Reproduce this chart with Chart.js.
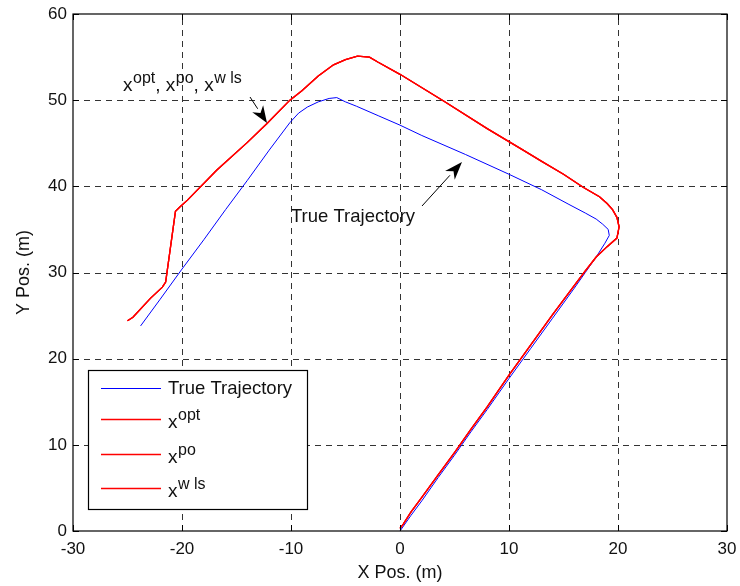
<!DOCTYPE html>
<html><head><meta charset="utf-8">
<script src="https://cdn.jsdelivr.net/npm/chart.js@4.4.0/dist/chart.umd.min.js"></script>
<style>html,body{margin:0;padding:0;background:#fff}#wrap{width:740px;height:586px;position:relative}</style>
</head><body><div id="wrap"><canvas id="c" width="740" height="586"></canvas></div>
<script>
// ---- data ----
const xTicks = [-30, -20, -10, 0, 10, 20, 30];
const yTicks = [0, 10, 20, 30, 40, 50, 60];
const seriesNames = ['True Trajectory', 'x^opt', 'x^po', 'x^w ls'];
const xTitle = 'X Pos. (m)';
const yTitle = 'Y Pos. (m)';

const trueX = [0, 1, 2, 3.5, 5, 6.5, 8, 10, 12, 14, 16, 17, 18, 18.8, 19.2, 19.1, 18.6, 18.0, 17.0, 15.5, 13.0, 10.0, 6.0, 2.0, 0, -2.0, -4.0, -5.0, -5.8, -6.5, -7.5, -8.5, -9.3, -10.1, -12.0, -14.0, -16.0, -18.0, -20.0, -22.0, -23.8];
const trueY = [0, 1.8, 3.5, 6.2, 8.8, 11.5, 14.1, 17.7, 21.2, 24.7, 28.2, 30.0, 31.8, 33.4, 34.3, 35.0, 35.6, 36.2, 36.9, 37.9, 39.6, 41.4, 43.7, 45.9, 47.1, 48.2, 49.3, 49.8, 50.3, 50.2, 49.8, 49.2, 48.5, 47.4, 44.2, 40.7, 37.3, 33.8, 30.4, 26.9, 23.8];

const estX = [0, 0.3, 1, 2, 3.5, 5, 6.5, 8, 10, 12, 14, 16, 17, 18, 19, 19.9, 20.1, 19.9, 19.5, 19.0, 18.3, 16.8, 15.0, 13.0, 11.3, 8.0, 4.0, 0, -2.0, -2.8, -3.9, -5.0, -6.1, -7.5, -9.0, -10.1, -12.2, -14.0, -16.8, -19.5, -20.2, -20.6, -21.5, -21.8, -22.9, -24.5, -25.0];
const estY = [0.3, 0.8, 2.2, 3.9, 6.5, 9.1, 11.8, 14.4, 18.1, 21.6, 25.1, 28.5, 30.2, 31.8, 33.0, 34.0, 35.3, 36.4, 37.3, 38.0, 38.8, 39.9, 41.4, 42.9, 44.2, 46.7, 49.9, 53.0, 54.4, 55.0, 55.1, 54.7, 54.1, 52.8, 51.1, 50.0, 47.3, 45.1, 41.9, 38.4, 37.6, 37.1, 28.9, 28.3, 27.0, 24.8, 24.4];

// ---- helpers ----
const FAM = "'Liberation Sans', Arial, Helvetica, sans-serif";
const pts = (xs, ys) => xs.map((x, i) => ({x: x, y: ys[i]}));

function drawRich(ctx, parts, x, y, baseSize, supSize, rise) {
  let cx = x;
  ctx.textAlign = 'left';
  ctx.textBaseline = 'alphabetic';
  for (const p of parts) {
    ctx.font = baseSize + 'px ' + FAM;
    ctx.fillText(p[0], cx, y);
    cx += ctx.measureText(p[0]).width;
    if (p[1]) {
      ctx.font = supSize + 'px ' + FAM;
      ctx.fillText(p[1], cx + 0.5, y - rise);
      cx += ctx.measureText(p[1]).width + 0.5;
    }
  }
  return cx;
}
function splitSup(name) {
  const i = name.indexOf('^');
  return i < 0 ? [name, null] : [name.slice(0, i), name.slice(i + 1)];
}
function arrow(ctx, x0, y0, x1, y1, headLen, headW) {
  const a = Math.atan2(y1 - y0, x1 - x0);
  const bx = x1 - headLen * Math.cos(a), by = y1 - headLen * Math.sin(a);
  ctx.strokeStyle = '#000'; ctx.fillStyle = '#000'; ctx.lineWidth = 1;
  ctx.beginPath(); ctx.moveTo(x0, y0); ctx.lineTo(bx, by); ctx.stroke();
  const nx = -Math.sin(a), ny = Math.cos(a);
  const mx = x1 - headLen * 0.7 * Math.cos(a), my = y1 - headLen * 0.7 * Math.sin(a);
  ctx.beginPath();
  ctx.moveTo(x1, y1);
  ctx.lineTo(bx + nx * headW / 2, by + ny * headW / 2);
  ctx.lineTo(mx, my);
  ctx.lineTo(bx - nx * headW / 2, by - ny * headW / 2);
  ctx.closePath(); ctx.fill();
}

const gridPlugin = {
  id: 'dashgrid',
  beforeDatasetsDraw(chart) {
    const ctx = chart.ctx, a = chart.chartArea;
    const xs = chart.scales.x, ys = chart.scales.y;
    ctx.save();
    ctx.strokeStyle = '#333'; ctx.lineWidth = 1;
    ctx.setLineDash([6, 5]);
    ctx.beginPath();
    for (const v of xTicks.slice(1, -1)) {
      const px = Math.round(xs.getPixelForValue(v)) + 0.5;
      ctx.moveTo(px, a.bottom); ctx.lineTo(px, a.top);
    }
    for (const v of yTicks.slice(1, -1)) {
      const py = Math.round(ys.getPixelForValue(v)) + 0.5;
      ctx.moveTo(a.left, py); ctx.lineTo(a.right, py);
    }
    ctx.stroke();
    ctx.restore();
  }
};

const decor = {
  id: 'decor',
  afterDraw(chart) {
    const ctx = chart.ctx, a = chart.chartArea;
    const xs = chart.scales.x, ys = chart.scales.y;
    ctx.save();
    // box
    ctx.strokeStyle = '#000'; ctx.lineWidth = 1.2;
    ctx.strokeRect(a.left, a.top, a.right - a.left, a.bottom - a.top);
    // inner tick marks
    ctx.lineWidth = 1;
    ctx.beginPath();
    for (const v of xTicks) {
      const px = Math.round(xs.getPixelForValue(v)) + 0.5;
      ctx.moveTo(px, a.bottom); ctx.lineTo(px, a.bottom - 6);
      ctx.moveTo(px, a.top); ctx.lineTo(px, a.top + 6);
    }
    for (const v of yTicks) {
      const py = Math.round(ys.getPixelForValue(v)) + 0.5;
      ctx.moveTo(a.left, py); ctx.lineTo(a.left + 6, py);
      ctx.moveTo(a.right, py); ctx.lineTo(a.right - 6, py);
    }
    ctx.stroke();
    // axis titles
    ctx.fillStyle = '#111';
    ctx.font = '18px ' + FAM;
    ctx.textAlign = 'center'; ctx.textBaseline = 'alphabetic';
    ctx.fillText(xTitle, (a.left + a.right) / 2, 578);
    ctx.save();
    ctx.translate(29, (a.top + a.bottom) / 2);
    ctx.rotate(-Math.PI / 2);
    ctx.fillText(yTitle, 0, 0);
    ctx.restore();
    // annotations
    ctx.fillStyle = '#111';
    drawRich(ctx, [['x', 'opt'], [', x', 'po'], [', x', 'w ls']], 123, 91, 19, 16, 8);
    arrow(ctx, 250, 97, 267, 123, 17, 13);
    ctx.fillStyle = '#111';
    ctx.font = '18.5px ' + FAM;
    ctx.textAlign = 'left';
    ctx.fillText('True Trajectory', 291, 222);
    arrow(ctx, 422, 206, 462, 162, 18, 13);
    // legend
    const L = 88, T = 370, R = 307, B = 509;
    ctx.fillStyle = '#fff';
    ctx.fillRect(L, T, R - L, B - T);
    ctx.strokeStyle = '#000'; ctx.lineWidth = 1.2;
    ctx.strokeRect(L + 0.5, T + 0.5, R - L, B - T);
    const rows = [388, 419, 454, 488];
    const ds = chart.data.datasets;
    rows.forEach((ry, i) => {
      ctx.strokeStyle = ds[i].borderColor;
      ctx.lineWidth = i === 0 ? 1 : 1.3;
      ctx.beginPath(); ctx.moveTo(101, ry + 0.5); ctx.lineTo(161, ry + 0.5); ctx.stroke();
      ctx.fillStyle = '#111';
      const sp = splitSup(seriesNames[i]);
      if (sp[1] === null) {
        ctx.font = '18.5px ' + FAM; ctx.textAlign = 'left'; ctx.textBaseline = 'middle';
        ctx.fillText(sp[0], 168, ry + 1);
      } else {
        drawRich(ctx, [[sp[0], sp[1]]], 168, ry + 9, 19, 16, 8);
      }
    });
    ctx.restore();
  }
};

new Chart(document.getElementById('c'), {
  type: 'scatter',
  data: {
    datasets: [
      {label: seriesNames[0], data: pts(trueX, trueY), showLine: true, borderColor: '#0000ff', borderWidth: 1, pointRadius: 0, order: 2, tension: 0},
      {label: seriesNames[1], data: pts(estX, estY), showLine: true, borderColor: '#ff0000', borderWidth: 1.3, pointRadius: 0, order: 1, tension: 0},
      {label: seriesNames[2], data: pts(estX, estY), showLine: true, borderColor: '#ff0000', borderWidth: 1.3, pointRadius: 0, order: 1, tension: 0},
      {label: seriesNames[3], data: pts(estX, estY), showLine: true, borderColor: '#ff0000', borderWidth: 1.3, pointRadius: 0, order: 1, tension: 0}
    ]
  },
  options: {
    responsive: false,
    animation: false,
    layout: {padding: {left: 0, right: 13, top: 14, bottom: 0}},
    plugins: {legend: {display: false}, tooltip: {enabled: false}},
    scales: {
      x: {
        type: 'linear', min: -30, max: 30,
        afterBuildTicks: (s) => { s.ticks = xTicks.map(v => ({value: v})); },
        afterFit: (s) => { s.height = 55; s.paddingLeft = 0; s.paddingRight = 0; },
        grid: {display: false, drawTicks: false},
        border: {display: false},
        ticks: {color: '#111', font: {family: FAM, size: 17}, padding: 8, maxRotation: 0, autoSkip: false}
      },
      y: {
        type: 'linear', min: 0, max: 60,
        afterBuildTicks: (s) => { s.ticks = yTicks.map(v => ({value: v})); },
        afterFit: (s) => { s.width = 73; s.paddingTop = 0; s.paddingBottom = 0; },
        grid: {display: false, drawTicks: false},
        border: {display: false},
        ticks: {color: '#111', font: {family: FAM, size: 17}, padding: 6, autoSkip: false}
      }
    }
  },
  plugins: [gridPlugin, decor]
});
</script>
</body></html>
